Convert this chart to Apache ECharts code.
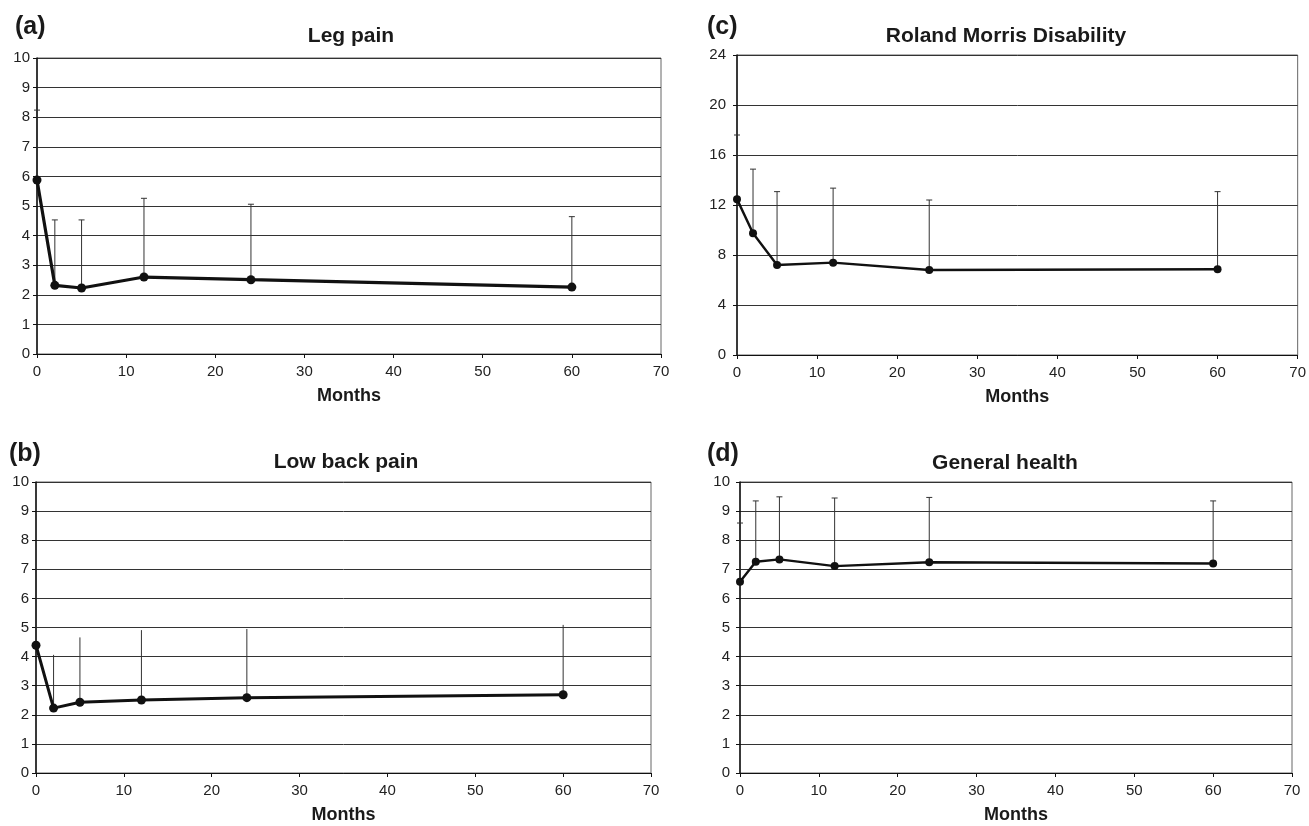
<!DOCTYPE html>
<html>
<head>
<meta charset="utf-8">
<script src="https://cdn.jsdelivr.net/npm/echarts@6/dist/echarts.min.js"></script>
<style>
html,body{margin:0;padding:0;background:#fff;}
#chart{width:1309px;height:826px;}
</style>
</head>
<body>
<div id="chart"></div>
<script>
// ---- Data ----
const months = [0, 2, 5, 12, 24, 60];
const xTicks = [0, 10, 20, 30, 40, 50, 60, 70];

const legPainMean  = [5.88, 2.32, 2.23, 2.60, 2.51, 2.26];
const legPainUpper = [8.24, 4.53, 4.53, 5.26, 5.06, 4.64];

const lowBackMean  = [4.39, 2.23, 2.43, 2.51, 2.59, 2.69];
const lowBackUpper = [7.05, 4.06, 4.66, 4.91, 4.95, 5.09];

const rolandMean   = [12.47, 9.74, 7.20, 7.39, 6.80, 6.86];
const rolandUpper  = [17.60, 14.87, 13.07, 13.35, 12.40, 13.07];

const healthMean   = [6.57, 7.26, 7.34, 7.11, 7.24, 7.20];
const healthUpper  = [8.59, 9.35, 9.49, 9.45, 9.47, 9.35];

const yTicks10 = [0,1,2,3,4,5,6,7,8,9,10];
const yTicks24 = [0,4,8,12,16,20,24];

const titles = ['Leg pain', 'Low back pain', 'Roland Morris Disability', 'General health'];
const panelLabels = ['(a)', '(b)', '(c)', '(d)'];
const xName = 'Months';

// ---- Chart ----
const FONT = '"Liberation Sans", Arial, Helvetica, sans-serif';
const chart = echarts.init(document.getElementById('chart'), null, {renderer: 'canvas'});

const panels = [
  {grid:{left:37, top:58, width:624, height:296}, mean:legPainMean, upper:legPainUpper, yt:yTicks10, lw:3.2, sym:9, cap:3, labelMargin:7},
  {grid:{left:36, top:482, width:615, height:291}, mean:lowBackMean, upper:lowBackUpper, yt:yTicks10, lw:3, sym:9, cap:0, labelMargin:7},
  {grid:{left:737, top:55, width:563, height:300}, mean:rolandMean, upper:rolandUpper, yt:yTicks24, lw:2.4, sym:8, cap:3, labelMargin:11},
  {grid:{left:740, top:482, width:552, height:291}, mean:healthMean, upper:healthUpper, yt:yTicks10, lw:2.4, sym:8, cap:3, labelMargin:10}
];

function errRender(cap) {
  return function (params, api) {
    const x = api.value(0), m = api.value(1), u = api.value(2);
    const p0 = api.coord([x, m]);
    const p1 = api.coord([x, u]);
    const children = [{
      type: 'line',
      shape: {x1: p0[0], y1: p0[1], x2: p1[0], y2: p1[1]},
      style: {stroke: '#333', lineWidth: 1}
    }];
    if (cap > 0) {
      children.push({
        type: 'line',
        shape: {x1: p1[0] - cap, y1: p1[1], x2: p1[0] + cap, y2: p1[1]},
        style: {stroke: '#333', lineWidth: 1}
      });
    }
    return {type: 'group', children: children};
  };
}

const grids = [], xAxes = [], yAxes = [], series = [];
panels.forEach(function (p, i) {
  grids.push(Object.assign({show: true, borderColor: '#666', borderWidth: 1, backgroundColor: 'transparent'}, p.grid));
  xAxes.push({
    type: 'value', gridIndex: i,
    min: xTicks[0], max: xTicks[xTicks.length - 1], interval: xTicks[1] - xTicks[0],
    name: xName, nameLocation: 'middle', nameGap: 33,
    nameTextStyle: {fontFamily: FONT, fontSize: 18, fontWeight: 'bold', color: '#1a1a1a'},
    axisLine: {show: true, lineStyle: {color: '#111', width: 1}},
    axisTick: {show: true, length: 4, lineStyle: {color: '#111'}},
    axisLabel: {fontFamily: FONT, fontSize: 15, color: '#222', margin: 10},
    splitLine: {show: false}
  });
  yAxes.push({
    type: 'value', gridIndex: i,
    min: p.yt[0], max: p.yt[p.yt.length - 1], interval: p.yt[1] - p.yt[0],
    axisLine: {show: true, lineStyle: {color: '#111', width: 1.5}},
    axisTick: {show: true, length: 4, lineStyle: {color: '#111'}},
    axisLabel: {fontFamily: FONT, fontSize: 15, color: '#222', margin: p.labelMargin},
    splitLine: {show: true, lineStyle: {color: '#333', width: 1}}
  });
  series.push({
    type: 'custom', xAxisIndex: i, yAxisIndex: i, z: 3,
    renderItem: errRender(p.cap),
    encode: {x: 0, y: [1, 2]},
    data: months.map(function (m, k) { return [m, p.mean[k], p.upper[k]]; })
  });
  series.push({
    type: 'line', xAxisIndex: i, yAxisIndex: i, z: 5,
    symbol: 'circle', symbolSize: p.sym,
    itemStyle: {color: '#111'},
    lineStyle: {color: '#111', width: p.lw},
    data: months.map(function (m, k) { return [m, p.mean[k]]; })
  });
});

function txt(text, x, y, size, align) {
  return {
    type: 'text', x: x, y: y, z: 10,
    style: {
      text: text, fill: '#1a1a1a',
      font: 'bold ' + size + 'px ' + FONT,
      align: align, verticalAlign: 'middle',
      textAlign: align, textVerticalAlign: 'middle'
    }
  };
}

const graphics = [
  txt(titles[0], 351, 36, 21, 'center'),
  txt(titles[1], 346, 462, 21, 'center'),
  txt(titles[2], 1006, 36, 21, 'center'),
  txt(titles[3], 1005, 463, 21, 'center'),
  txt(panelLabels[0], 15, 27, 25, 'left'),
  txt(panelLabels[1], 9, 454, 25, 'left'),
  txt(panelLabels[2], 707, 27, 25, 'left'),
  txt(panelLabels[3], 707, 454, 25, 'left')
];

chart.setOption({
  animation: false,
  backgroundColor: '#fff',
  grid: grids,
  xAxis: xAxes,
  yAxis: yAxes,
  series: series,
  graphic: graphics
});
</script>
</body>
</html>
